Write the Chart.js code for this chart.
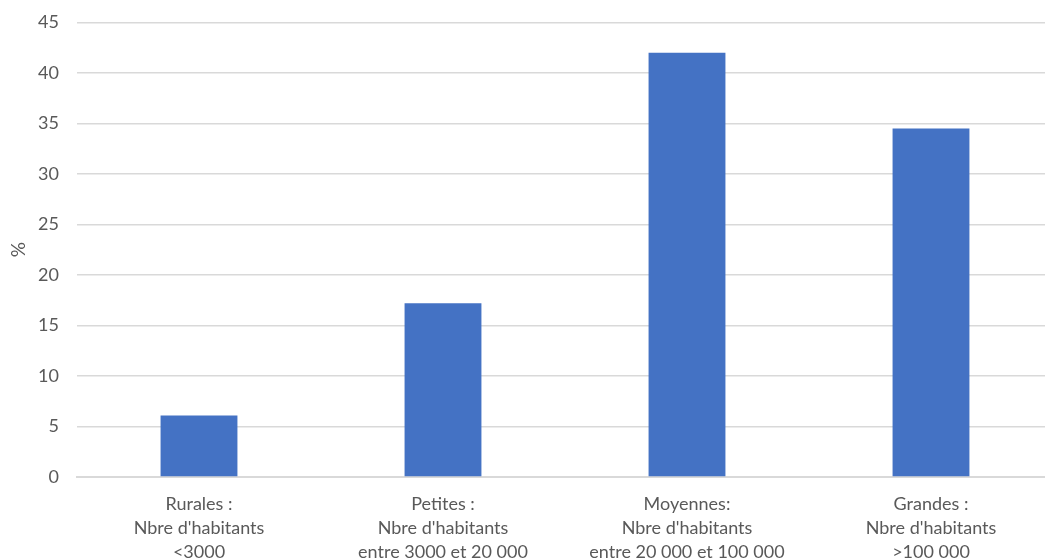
<!DOCTYPE html>
<html>
<head>
<meta charset="utf-8">
<script src="https://cdn.jsdelivr.net/npm/chart.js@4.4.1/dist/chart.umd.min.js"></script>
<style>
    html, body { margin: 0; padding: 0; overflow: hidden; background: #fff; }
    #wrap { position: relative; width: 1053px; height: 570px; }
</style>
</head>
<body>
<div id="wrap"><canvas id="graficas"></canvas></div>
<script>
// Catégories de communes (libellés sur 3 lignes)
const categories = [
    ["Rurales :", "Nbre d'habitants", "<3000"],
    ["Petites :", "Nbre d'habitants", "entre 3000 et 20 000"],
    ["Moyennes:", "Nbre d'habitants", "entre 20 000 et 100 000"],
    ["Grandes :", "Nbre d'habitants", ">100 000"]
];
// Valeurs en %
const valeurs = [6.1, 17.2, 42.0, 34.5];
// Graduations de l'axe Y
const yMin = 0;
const yMax = 45;
const yStep = 5;

const gris = '#595959';
const police = "Lato, 'Open Sans', sans-serif";

const ctx = document.getElementById('graficas').getContext('2d');
new Chart(ctx, {
    type: 'bar',
    data: {
        labels: categories,
        datasets: [{
            data: valeurs,
            backgroundColor: '#4472C4',
            borderColor: '#4472C4',
            borderWidth: 0,
            categoryPercentage: 1,
            barPercentage: 0.315
        }]
    },
    options: {
        responsive: true,
        maintainAspectRatio: false,
        animation: false,
        layout: { padding: { top: 22.5, right: 0, bottom: 0, left: 0 } },
        plugins: {
            legend: { display: false },
            tooltip: { enabled: false }
        },
        scales: {
            x: {
                grid: { display: false, drawTicks: false },
                border: { display: true, color: '#d9d9d9', width: 2 },
                ticks: {
                    color: gris,
                    padding: 15,
                    maxRotation: 0,
                    autoSkip: false,
                    font: { family: police, size: 18, lineHeight: 1.333 }
                },
                afterFit: function (scale) { scale.height = 93; }
            },
            y: {
                min: yMin,
                max: yMax,
                ticks: {
                    stepSize: yStep,
                    color: gris,
                    padding: 18,
                    font: { family: police, size: 18 }
                },
                grid: { color: '#d9d9d9', lineWidth: 1.5, drawTicks: false },
                border: { display: false },
                title: {
                    display: true,
                    text: '%',
                    color: gris,
                    font: { family: police, size: 19 },
                    padding: { top: 7, bottom: 0 }
                },
                afterFit: function (scale) {
                    scale.width = 77;
                    scale.paddingTop = 0;
                    scale.paddingBottom = 0;
                }
            }
        }
    }
});
</script>
</body>
</html>
